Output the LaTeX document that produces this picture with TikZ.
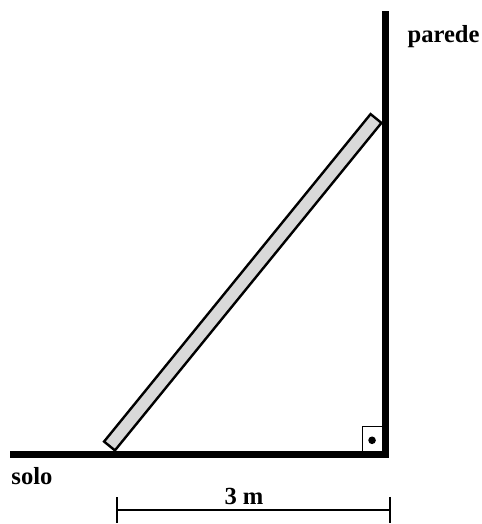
\documentclass[tikz,border=0pt]{standalone}
\usepackage{fontspec}
\setmainfont{Liberation Serif}
\usetikzlibrary{arrows.meta,positioning,calc}

\begin{document}
\begin{tikzpicture}[
    % --- STYLES ---
    rotulo/.style={
        font=\fontsize{17.5}{20}\selectfont\bfseries,
        inner sep=0pt, anchor=base
    },
    muro/.style={line width=0.175cm, line join=miter},
    escadabox/.style={
        rectangle, draw=black, fill=black!15,
        line width=0.06cm,
        minimum width=10.556cm,
        minimum height=0.35cm,
        inner sep=0pt, rotate=50.86
    },
    anguloreto/.style={
        rectangle, draw=black, line width=0.035cm,
        minimum width=0.5625cm, minimum height=0.7cm,
        inner sep=0pt, anchor=south east
    },
    cota/.style={line width=0.04cm, {Bar[width=0.65cm]}-{Bar[width=0.65cm]}}
]
\useasboundingbox (0,0) rectangle (12.05,13.1);

% ===== 1. SOLO & PAREDE =====
\coordinate (soloIni) at (0.25,1.725);
\coordinate (canto) at (9.64,1.725);
\coordinate (topo) at (9.64,12.825);

\node[anguloreto] (reto) at (canto) {};
\fill ([xshift=-0.04cm]reto.center) circle (0.095cm);

\draw[muro] (soloIni) -- (canto) -- (topo);

% ===== 2. ESCADA =====
\node[escadabox] (escada) at (6.069,6.044) {};

% ===== 3. ROTULOS =====
\node[rotulo] (parede) at (11.09,12.025) {parede};
\node[rotulo] (solo) at (0.8,0.975) {solo};

% Cota horizontal
\coordinate (cotaA) at (2.9,0.35);
\coordinate (cotaB) at (9.77,0.35);
\draw[cota] (cotaA) -- (cotaB);
\node[rotulo] (medida) at (6.1,0.5) {3 m};

\end{tikzpicture}
\end{document}
